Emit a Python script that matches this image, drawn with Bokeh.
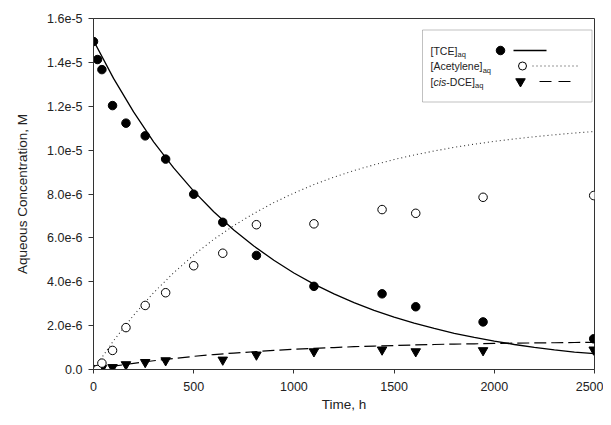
from bokeh.plotting import figure
from bokeh.models import (FixedTicker, CustomJSTickFormatter, Range1d, Label,
                          BoxAnnotation, ColumnDataSource)
from bokeh.core.properties import value
from bokeh.embed import file_html
from bokeh.resources import INLINE

# ---------------- data (concentrations in units of 1e-6 M) ----------------
SCALE = 1e-6
t_tce = [0, 20, 42, 95, 162, 258, 360, 500, 645, 813, 1100, 1440, 1608, 1944, 2496]
tce = [14.95, 14.13, 13.67, 12.03, 11.23, 10.65, 9.59, 7.99, 6.71, 5.20, 3.79, 3.45, 2.86, 2.17, 1.40]

t_ace = [0, 20, 42, 95, 162, 258, 360, 500, 645, 813, 1100, 1440, 1608, 1944, 2496]
ace = [0.0, 0.0, 0.29, 0.87, 1.91, 2.92, 3.50, 4.73, 5.30, 6.60, 6.64, 7.29, 7.12, 7.85, 7.93]

t_dce = [0, 20, 42, 95, 162, 258, 360, 645, 813, 1100, 1440, 1608, 1944, 2496]
dce = [0.0, 0.02, 0.06, 0.10, 0.23, 0.33, 0.41, 0.44, 0.67, 0.82, 0.90, 0.82, 0.87, 0.90]

t_fit = [0, 100, 200, 300, 400, 500, 600, 700, 800, 900, 1000, 1100, 1200, 1300,
         1400, 1500, 1600, 1700, 1800, 1900, 2000, 2100, 2200, 2300, 2400, 2500]
tce_fit = [15.0, 13.27, 11.74, 10.38, 9.19, 8.13, 7.19, 6.36, 5.63, 4.98, 4.40, 3.89, 3.45,
           3.05, 2.70, 2.39, 2.11, 1.87, 1.65, 1.46, 1.29, 1.14, 1.01, 0.89, 0.79, 0.72]
ace_fit = [0.0, 1.31, 2.47, 3.50, 4.41, 5.22, 5.93, 6.56, 7.11, 7.61, 8.04, 8.43, 8.77,
           9.07, 9.33, 9.57, 9.78, 9.96, 10.13, 10.27, 10.40, 10.51, 10.61, 10.70, 10.78, 10.85]
dce_fit = [0.0, 0.15, 0.28, 0.40, 0.50, 0.60, 0.68, 0.75, 0.81, 0.87, 0.92, 0.96, 1.00,
           1.04, 1.07, 1.09, 1.12, 1.14, 1.16, 1.17, 1.19, 1.20, 1.21, 1.22, 1.23, 1.24]

x_ticks = [0, 500, 1000, 1500, 2000, 2500]
y_ticks = [0, 2e-6, 4e-6, 6e-6, 8e-6, 1.0e-5, 1.2e-5, 1.4e-5, 1.6e-5]
x_title = "Time, h"
y_title = "Aqueous Concentration, M"
legend_names = ["[TCE]", "[Acetylene]", "[", "cis", "-DCE]"]
legend_sub = "aq"

# ---------------- layout ----------------
W, H = 603, 417
BL, BR, BT, BB = 93, 9, 18, 48
XMIN, XMAX = 0, 2500
YMIN, YMAX = 0, 1.6e-5
FONT = "Liberation Sans"
INK = "#222222"
AXC = "#333333"

p = figure(width=W, height=H, output_backend="svg", toolbar_location=None,
           x_range=Range1d(XMIN, XMAX), y_range=Range1d(YMIN, YMAX),
           min_border_left=BL, min_border_right=BR, min_border_top=BT, min_border_bottom=BB)
p.xgrid.visible = False
p.ygrid.visible = False
p.outline_line_color = AXC
p.outline_line_width = 1
p.background_fill_color = "white"
p.border_fill_color = "white"

for ax in (p.xaxis[0], p.yaxis[0]):
    ax.axis_line_color = AXC
    ax.major_tick_line_color = AXC
    ax.minor_tick_line_color = None
    ax.major_tick_in = 0
    ax.major_label_text_font = FONT
    ax.major_label_text_font_size = "12.5px"
    ax.major_label_text_color = INK
    ax.axis_label_text_font = FONT
    ax.axis_label_text_font_size = "13.5px"
    ax.axis_label_text_font_style = "normal"
    ax.axis_label_text_color = INK

p.xaxis.ticker = FixedTicker(ticks=x_ticks)
p.yaxis.ticker = FixedTicker(ticks=y_ticks)
p.yaxis.formatter = CustomJSTickFormatter(code="return tick == 0 ? '0.0' : tick.toExponential(1);")
p.xaxis.major_tick_out = 4
p.yaxis.major_tick_out = 5
p.xaxis.major_label_standoff = 8
p.yaxis.major_label_standoff = 6
p.xaxis.axis_label = x_title
p.yaxis.axis_label = y_title
p.xaxis.axis_label_standoff = 3
p.yaxis.axis_label_standoff = 14

# ---------------- fitted curves ----------------
fit = ColumnDataSource(dict(t=t_fit,
                            tce=[v * SCALE for v in tce_fit],
                            ace=[v * SCALE for v in ace_fit],
                            dce=[v * SCALE for v in dce_fit]))
p.line("t", "tce", source=fit, line_color="black", line_width=1.3)
p.line("t", "ace", source=fit, line_color="#333333", line_width=1.1, line_dash="1 3")
p.line("t", "dce", source=fit, line_color="black", line_width=1.2, line_dash="12 5")

# ---------------- measured points ----------------
p.scatter(t_dce, [v * SCALE for v in dce], marker="inverted_triangle",
          size=9.5, fill_color="black", line_color="black")
p.scatter(t_ace, [v * SCALE for v in ace], marker="circle", size=8.5,
          fill_color="white", line_color="black", line_width=1)
p.scatter(t_tce, [v * SCALE for v in tce], marker="circle", size=8.5,
          fill_color="black", line_color="black")

# ---------------- legend (positions in screen pixels -> data) ----------------
FL, FR, FT, FB = BL, W - BR, BT, H - BB


def dx(px):
    return XMIN + (px - FL) / (FR - FL) * (XMAX - XMIN)


def dy(py):
    return YMIN + (FB - py) / (FB - FT) * (YMAX - YMIN)


box = BoxAnnotation(left=dx(422), right=dx(591.5), top=dy(29.5), bottom=dy(101.5),
                    fill_color="white", fill_alpha=1.0, line_color=AXC, line_width=1,
                    level="underlay")
p.add_layout(box)

LF = "10.5px"
SF = "7.5px"
rows_y = [50, 65.5, 81]
tx = 430


def lab(px, py, text, size=LF, style="normal"):
    p.add_layout(Label(x=dx(px), y=dy(py), text=text, text_font=FONT, text_font_size=size,
                       text_font_style=style, text_color=INK, text_baseline="middle",
                       text_align="left"))


lab(tx, rows_y[0], legend_names[0])
lab(tx + 27.0, rows_y[0] + 4, legend_sub, SF)
lab(tx, rows_y[1], legend_names[1])
lab(tx + 52.2, rows_y[1] + 4, legend_sub, SF)
lab(tx, rows_y[2], legend_names[2])
lab(tx + 2.9, rows_y[2], legend_names[3], style="italic")
lab(tx + 15.8, rows_y[2], legend_names[4])
lab(tx + 44.6, rows_y[2] + 4, legend_sub, SF)

p.scatter([dx(500)], [dy(rows_y[0])], marker="circle", size=8.5, fill_color="black", line_color="black")
p.line([dx(513), dx(546)], [dy(rows_y[0]), dy(rows_y[0])], line_color="black", line_width=1.3)
p.scatter([dx(522)], [dy(rows_y[1])], marker="circle", size=8, fill_color="white", line_color="black")
p.line([dx(532), dx(577)], [dy(rows_y[1]), dy(rows_y[1])], line_color="#333333", line_width=1.1,
       line_dash="1 3")
p.scatter([dx(520)], [dy(rows_y[2])], marker="inverted_triangle", size=9.5, fill_color="black",
          line_color="black")
p.line([dx(539), dx(570)], [dy(rows_y[2]), dy(rows_y[2])], line_color="black", line_width=1.2,
       line_dash="12 7")

open("out.html", "w").write(file_html(p, INLINE))
